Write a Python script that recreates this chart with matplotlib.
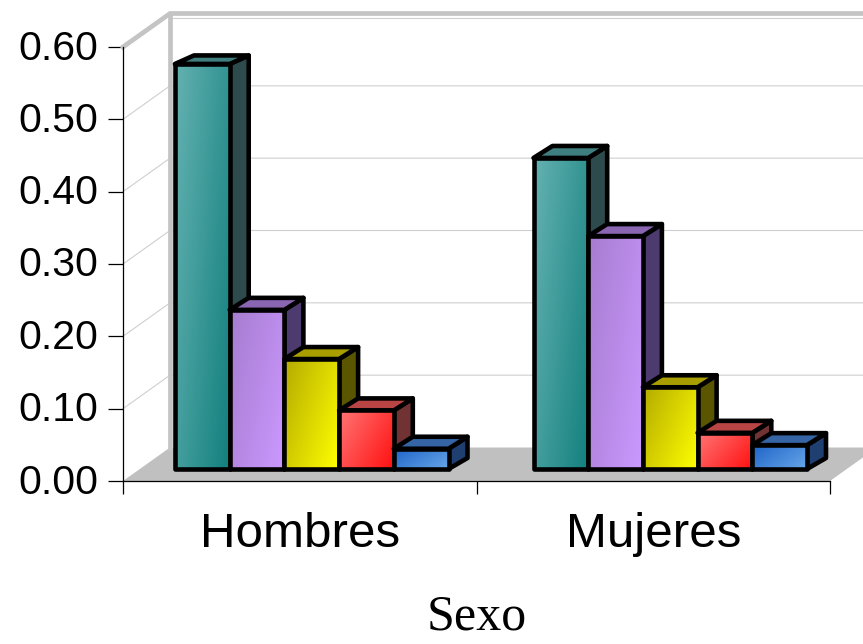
import numpy as np
from matplotlib import pyplot as plt
from matplotlib.colors import LinearSegmentedColormap
from matplotlib.patches import Polygon
from matplotlib.transforms import ScaledTranslation

categories = ['Hombres', 'Mujeres']
hombres = [0.56, 0.22, 0.152, 0.081, 0.028]
mujeres = [0.43, 0.322, 0.113, 0.05, 0.033]
y_ticks = [0.0, 0.1, 0.2, 0.3, 0.4, 0.5, 0.6]

# light corner, dark corner, top face, side face
bar_colors = [
    ('#64B2B1', '#12807E', '#3F7F80', '#2D4A4C'),
    ('#A67CCF', '#CB99FF', '#8A66B2', '#4D3A6E'),
    ('#B5AB00', '#FFFF00', '#A89E00', '#5A5600'),
    ('#FF7575', '#FF1010', '#B84444', '#703232'),
    ('#1D64C8', '#68A6E8', '#3565A5', '#1F3F70'),
]

width_px, height_px = 863, 644
left_px, right_px, top_px, bottom_px = 123, 830, 47, 481

fig = plt.figure(figsize=(width_px / 100, height_px / 100), dpi=100)
ax = fig.add_axes([left_px / width_px, 1 - bottom_px / height_px,
                   (right_px - left_px) / width_px, (bottom_px - top_px) / height_px])

# data units per screen pixel
ux = len(categories) / (right_px - left_px)
uy = 0.6 / (bottom_px - top_px)

# box depth
depth_x, depth_y = 47 * ux, 33.5 * uy
wall_grey = '#C0C0C0'
end = len(categories)

floor = Polygon([(0, 0), (end, 0), (end + depth_x, depth_y), (depth_x, depth_y)],
                fc=wall_grey, ec='none', zorder=1, clip_on=False)
ax.add_patch(floor)

# gridlines on both walls
for v in y_ticks[1:]:
    ax.plot([0, depth_x, end + depth_x], [v, v + depth_y, v + depth_y],
            color='#CFCFCF', lw=0.8, zorder=1, clip_on=False)
ax.plot([depth_x, end + depth_x], [0.6 + depth_y - 4.5 * uy] * 2,
        color='#CFCFCF', lw=0.8, zorder=1, clip_on=False)

# thick wall edges
ax.plot([0, depth_x, end + depth_x], [0.6, 0.6 + depth_y, 0.6 + depth_y],
        color='#C4C4C4', lw=3.4, zorder=2, clip_on=False, solid_joinstyle='miter')
ax.plot([depth_x, depth_x], [depth_y, 0.6 + depth_y],
        color='#C4C4C4', lw=3.4, zorder=2, clip_on=False)

# bar placement, the second group sits a little further right in the original
bar_w = 54.7 * ux
group_start = [52 * ux, 57 * ux]
bar_dx = 19 * ux
base = 12 * uy

u, v = np.meshgrid(np.linspace(0, 1, 64), np.linspace(0, 1, 64))
diagonal = (0.62 * u + 0.38 * v)
z = 10

for i, values in enumerate([hombres, mujeres]):
    for j, value in enumerate(values):
        x0 = i + group_start[i] + j * bar_w
        x1 = x0 + bar_w
        y0 = base
        y1 = base + value
        light, dark, top_c, side_c = bar_colors[j]
        # tallest bar has a flatter top in the original
        bar_dy = (8.5 if value > 0.5 else 12) * uy

        side = Polygon([(x1, y0), (x1 + bar_dx, y0 + 11 * uy),
                        (x1 + bar_dx, y1 + bar_dy), (x1, y1)],
                       fc=side_c, ec='black', lw=3.3, joinstyle='round', zorder=z, clip_on=False)
        top = Polygon([(x0, y1), (x1, y1), (x1 + bar_dx, y1 + bar_dy), (x0 + bar_dx, y1 + bar_dy)],
                      fc=top_c, ec='black', lw=3.3, joinstyle='round', zorder=z + 1, clip_on=False)
        ax.add_patch(side)
        ax.add_patch(top)

        cmap = LinearSegmentedColormap.from_list('bar', [light, dark])
        ax.imshow(diagonal, cmap=cmap, extent=(x0, x1, y0, y1), origin='upper',
                  aspect='auto', zorder=z + 2, clip_on=False, interpolation='bilinear')
        front = Polygon([(x0, y0), (x1, y0), (x1, y1), (x0, y1)],
                        fc='none', ec='black', lw=3.3, joinstyle='round', zorder=z + 3, clip_on=False)
        ax.add_patch(front)
        z += 4

ax.set_xlim(0, end)
ax.set_ylim(0, 0.6)

for name in ['top', 'right']:
    ax.spines[name].set_visible(False)
for name in ['left', 'bottom']:
    ax.spines[name].set_linewidth(0.9)
    ax.spines[name].set_zorder(5)

ax.set_yticks(y_ticks)
ax.set_yticklabels(['%.2f' % t for t in y_ticks], fontfamily='Liberation Sans', fontsize=29.5)
ax.tick_params(axis='y', length=11, width=0.9, pad=7)
for label in ax.get_yticklabels():
    label.set_transform(label.get_transform() + ScaledTranslation(0, 2.5 / 100, fig.dpi_scale_trans))

ax.set_xticks(range(end + 1))
ax.set_xticklabels([])
ax.tick_params(axis='x', which='major', length=9.5, width=0.9)
ax.set_xticks([0.5, 1.5], categories, minor=True, fontfamily='Liberation Sans', fontsize=35.5)
ax.tick_params(axis='x', which='minor', length=0, pad=22)
ax.set_xlabel('Sexo', fontfamily='Liberation Serif', fontsize=36, labelpad=27)

fig.savefig('out.png', dpi=100)
